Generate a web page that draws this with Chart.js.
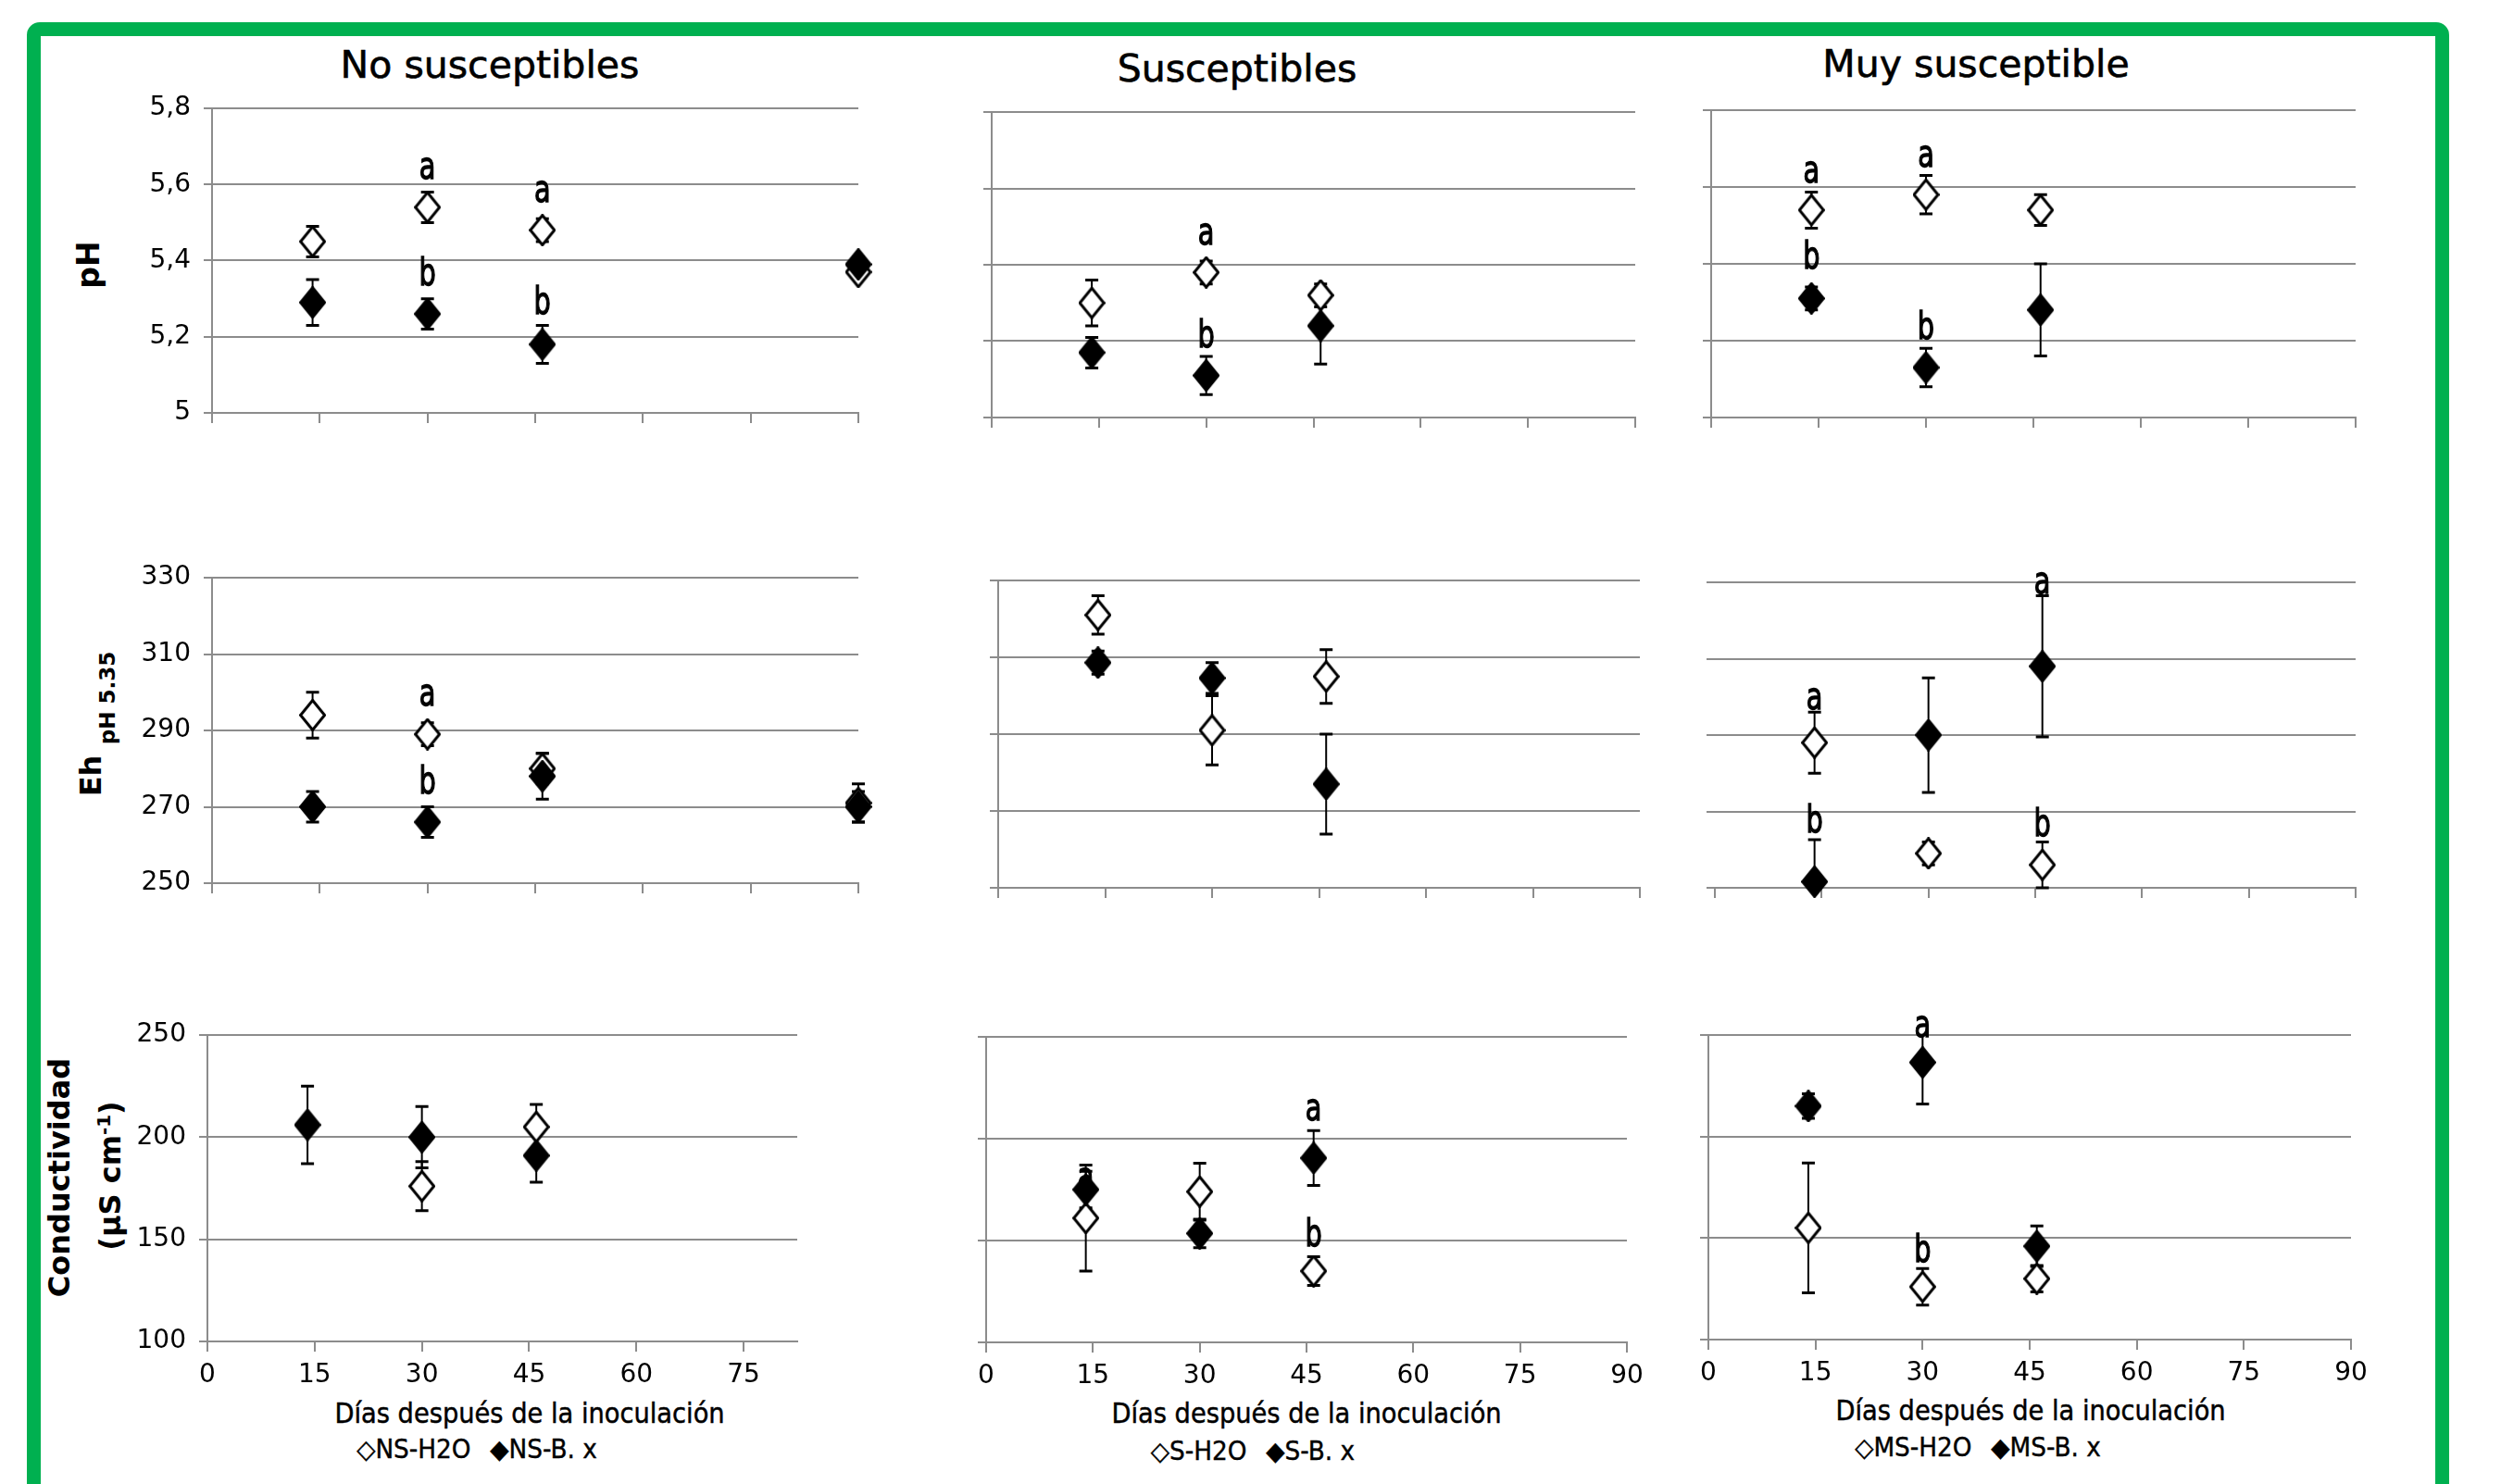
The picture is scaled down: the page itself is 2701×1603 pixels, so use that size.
<!DOCTYPE html>
<html>
<head>
<meta charset="utf-8">
<script src="https://cdn.jsdelivr.net/npm/chart.js@4.4.1/dist/chart.umd.min.js"></script>
<style>
  body { margin: 0; background: #fff; }
  #page { position: relative; width: 2701px; height: 1603px; overflow: hidden; background: #fff;
          font-family: 'DejaVu Sans', sans-serif; color: #000; }
  .frame { position: absolute; left: 29px; top: 24px; width: 2616px; height: 1700px;
           border: 15px solid #00B050; border-radius: 14px; box-sizing: border-box; }
  canvas { position: absolute; }
  .txt { position: absolute; white-space: nowrap; line-height: 1; transform: translate(-50%, -50%); }
  .rot { transform: translate(-50%, -50%) rotate(-90deg); font-weight: bold; }
  .title { font-size: 41px; -webkit-text-stroke: 0.6px #000; }
  .xt { font-size: 31px; transform: translate(-50%, -50%) scaleX(0.88); -webkit-text-stroke: 0.5px #000; }
  .lg { font-size: 28px; transform: translate(-50%, -50%) scaleX(0.94); -webkit-text-stroke: 0.4px #000; }
  .lg .gap { display: inline-block; width: 22px; }
</style>
</head>
<body>
<div id="page">
  <div class="frame"></div>

  <div class="txt title" style="left:529px;top:70px">No susceptibles</div>
  <div class="txt title" style="left:1336px;top:74px">Susceptibles</div>
  <div class="txt title" style="left:2134px;top:69px">Muy susceptible</div>

  <div class="txt rot" style="left:95px;top:286px;font-size:33px">pH</div>
  <div class="txt rot" style="left:98px;top:838px;font-size:32px">Eh</div>
  <div class="txt rot" style="left:116px;top:754px;font-size:23px">pH 5.35</div>
  <div class="txt rot" style="left:64px;top:1272px;font-size:32px">Conductividad</div>
  <div class="txt rot" style="left:119px;top:1270px;font-size:32px">(µS cm<sup style="font-size:0.62em">-1</sup>)</div>

  <div class="txt xt" style="left:572px;top:1526px">Días después de la inoculación</div>
  <div class="txt xt" style="left:1411px;top:1526px">Días después de la inoculación</div>
  <div class="txt xt" style="left:2193px;top:1523px">Días después de la inoculación</div>

  <div class="txt lg" style="left:515px;top:1566px">◇NS-H2O<span class="gap"></span>◆NS-B. x</div>
  <div class="txt lg" style="left:1353px;top:1568px">◇S-H2O<span class="gap"></span>◆S-B. x</div>
  <div class="txt lg" style="left:2136px;top:1564px">◇MS-H2O<span class="gap"></span>◆MS-B. x</div>
</div>

<script>
// sampling days
const nsDays = [14, 30, 46, 90];
const nsCondDays = [14, 30, 46];
const sDays = [14, 30, 46];
const msDays = [14, 30, 46];

// tick labels
const xTicksFull = [0, 15, 30, 45, 60, 75, 90];
const xTicksNs = [0, 15, 30, 45, 60, 75];
const phTicks = [5, 5.2, 5.4, 5.6, 5.8];
const ehTicks = [250, 270, 290, 310, 330];
const condTicks = [100, 150, 200, 250];

// No susceptibles
const nsPhH2O = [5.45, 5.54, 5.48, 5.37];
const nsPhH2OErr = [0.04, 0.04, 0.03, 0.01];
const nsPhBx = [5.29, 5.26, 5.18, 5.39];
const nsPhBxErr = [0.06, 0.04, 0.05, 0.02];
const nsEhH2O = [294, 289, 280, 271];
const nsEhH2OErr = [6, 3, 4, 5];
const nsEhBx = [270, 266, 278, 270];
const nsEhBxErr = [4, 4, 6, 4];
const nsCondH2O = [null, 176, 205];
const nsCondH2OErr = [0, 12, 11];
const nsCondBx = [206, 200, 191];
const nsCondBxErr = [19, 15, 13];

// Susceptibles
const sPhH2O = [5.30, 5.38, 5.32];
const sPhH2OErr = [0.06, 0.03, 0.03];
const sPhBx = [5.17, 5.11, 5.24];
const sPhBxErr = [0.04, 0.05, 0.10];
const sEhH2O = [321, 291, 305];
const sEhH2OErr = [5, 9, 7];
const sEhBx = [308.6, 304.6, 277];
const sEhBxErr = [3, 4, 13];
const sCondH2O = [161, 174, 135];
const sCondH2OErr = [26, 14, 7];
const sCondBx = [175, 153.5, 190.5];
const sCondBxErr = [9, 7, 13.5];

// Muy susceptible
const msPhH2O = [5.54, 5.58, 5.54];
const msPhH2OErr = [0.047, 0.05, 0.04];
const msPhBx = [5.31, 5.13, 5.28];
const msPhBxErr = [0.03, 0.05, 0.12];
const msEhH2O = [288, 259, 256];
const msEhH2OErr = [8, 3, 6];
const msEhBx = [251.6, 290, 308];
const msEhBxErr = [11, 15, 18.5];
const msCondH2O = [155, 126, 130];
const msCondH2OErr = [32, 9, 6.5];
const msCondBx = [215, 236.5, 146];
const msCondBxErr = [6, 20.5, 10];

// significance letters: [letter, day, value]
const nsPhLetters = [['a', 30, 5.64], ['a', 46, 5.58], ['b', 30, 5.36], ['b', 46, 5.285]];
const nsEhLetters = [['a', 30, 299], ['b', 30, 276]];
const sPhLetters = [['a', 30, 5.478], ['b', 30, 5.21]];
const sCondLetters = [['a', 14, 180], ['a', 46, 214], ['b', 46, 152]];
const msPhLetters = [['a', 14, 5.636], ['a', 30, 5.677], ['b', 14, 5.413], ['b', 30, 5.23]];
const msEhLetters = [['a', 46, 329.5], ['a', 14, 299.3], ['b', 14, 267], ['b', 46, 266]];
const msCondLetters = [['a', 30, 254], ['b', 30, 143]];

Chart.defaults.font.family = "'DejaVu Sans', sans-serif";
const GRID = '#8c8c8c';
const AW = 110, PT = 60, PR = 40, XH = 64;

function diamond(filled) {
  const c = document.createElement('canvas');
  c.width = 29; c.height = 35;
  const g = c.getContext('2d');
  g.beginPath();
  g.moveTo(14.5, 1.5); g.lineTo(27.5, 17.5); g.lineTo(14.5, 33.5); g.lineTo(1.5, 17.5);
  g.closePath();
  g.fillStyle = filled ? '#000' : '#fff';
  g.fill();
  g.lineWidth = 3; g.strokeStyle = '#000'; g.lineJoin = 'miter';
  g.stroke();
  return c;
}
const openDiamond = diamond(false);
const fullDiamond = diamond(true);

function pts(days, vals, errs) {
  return days.map((d, i) => ({ x: d, y: vals[i], e: errs[i] })).filter(p => p.y != null);
}

function errorPlugin(letters) {
  return {
    id: 'errorBars',
    beforeDatasetsDraw(chart) {
      const { ctx, scales: { x, y } } = chart;
      ctx.save();
      ctx.strokeStyle = '#000';
      chart.data.datasets.forEach(ds => {
        ds.data.forEach(p => {
          if (!p.e) return;
          const px = x.getPixelForValue(p.x);
          const hi = p.y + p.e, lo = p.y - p.e;
          const yHi = y.getPixelForValue(Math.min(hi, y.max));
          const yLo = y.getPixelForValue(Math.max(lo, y.min));
          ctx.lineWidth = 2;
          ctx.beginPath(); ctx.moveTo(px, yHi); ctx.lineTo(px, yLo); ctx.stroke();
          ctx.lineWidth = 3;
          ctx.beginPath();
          if (hi <= y.max) { ctx.moveTo(px - 7, yHi); ctx.lineTo(px + 7, yHi); }
          if (lo >= y.min) { ctx.moveTo(px - 7, yLo); ctx.lineTo(px + 7, yLo); }
          ctx.stroke();
        });
      });
      // letters are tall and narrow in the original
      ctx.fillStyle = '#000';
      ctx.font = "40px 'DejaVu Sans'";
      ctx.textAlign = 'center';
      ctx.textBaseline = 'middle';
      ctx.lineWidth = 1.4;
      (letters || []).forEach(([t, lx, ly]) => {
        ctx.save();
        ctx.translate(x.getPixelForValue(lx), y.getPixelForValue(ly));
        ctx.scale(0.72, 1);
        ctx.fillText(t, 0, 0);
        ctx.strokeText(t, 0, 0);
        ctx.restore();
      });
      ctx.restore();
    }
  };
}

function fmtY(v) {
  return Number.isInteger(v) ? String(v) : v.toFixed(1).replace('.', ',');
}

function panel(box, p) {
  const canvas = document.createElement('canvas');
  const w = AW + (box.r - box.l) + PR;
  const h = PT + (box.b - box.t) + XH;
  canvas.width = w; canvas.height = h;
  canvas.style.left = (box.l - AW) + 'px';
  canvas.style.top = (box.t - PT) + 'px';
  document.getElementById('page').appendChild(canvas);

  new Chart(canvas, {
    type: 'scatter',
    data: {
      datasets: [
        { label: p.bxName, data: pts(p.days, p.bx, p.bxErr), pointStyle: fullDiamond,
          pointRadius: 17, clip: false },
        { label: p.h2oName, data: pts(p.days, p.h2o, p.h2oErr), pointStyle: openDiamond,
          pointRadius: 17, clip: false }
      ]
    },
    options: {
      responsive: false,
      animation: false,
      events: [],
      layout: { padding: { top: PT, right: PR, left: 0, bottom: 0 } },
      plugins: { legend: { display: false }, tooltip: { enabled: false } },
      scales: {
        x: {
          type: 'linear', min: 0, max: p.xMax,
          afterBuildTicks: s => { s.ticks = p.xTicks.map(v => ({ value: v })); },
          afterFit: s => { s.height = XH; },
          grid: { drawOnChartArea: false, drawTicks: true, tickLength: 11, color: GRID, lineWidth: 2 },
          border: { display: true, color: GRID, width: 2 },
          ticks: { display: p.showX, color: '#000', font: { size: 28 }, padding: 9,
                   maxRotation: 0, autoSkip: false, includeBounds: false }
        },
        y: {
          type: 'linear', min: p.yTicks[0], max: p.yTicks[p.yTicks.length - 1],
          afterBuildTicks: s => { s.ticks = p.yTicks.map(v => ({ value: v })); },
          afterFit: s => { s.width = AW; },
          grid: { color: GRID, lineWidth: 2, drawTicks: true, tickLength: 9 },
          border: { display: p.yBorder !== false, color: GRID, width: 2 },
          ticks: { display: p.showY, color: '#000', font: { size: 28 }, padding: 14, callback: fmtY }
        }
      }
    },
    plugins: [errorPlugin(p.letters)]
  });
}

// No susceptibles
panel({ l: 229, r: 927, t: 117, b: 446 }, {
  days: nsDays, h2o: nsPhH2O, h2oErr: nsPhH2OErr, bx: nsPhBx, bxErr: nsPhBxErr,
  h2oName: 'NS-H2O', bxName: 'NS-B. x', letters: nsPhLetters,
  yTicks: phTicks, xTicks: xTicksFull, xMax: 90, showX: false, showY: true });
panel({ l: 229, r: 927, t: 624, b: 954 }, {
  days: nsDays, h2o: nsEhH2O, h2oErr: nsEhH2OErr, bx: nsEhBx, bxErr: nsEhBxErr,
  h2oName: 'NS-H2O', bxName: 'NS-B. x', letters: nsEhLetters,
  yTicks: ehTicks, xTicks: xTicksFull, xMax: 90, showX: false, showY: true });
panel({ l: 224, r: 861, t: 1118, b: 1449 }, {
  days: nsCondDays, h2o: nsCondH2O, h2oErr: nsCondH2OErr, bx: nsCondBx, bxErr: nsCondBxErr,
  h2oName: 'NS-H2O', bxName: 'NS-B. x', letters: [],
  yTicks: condTicks, xTicks: xTicksNs, xMax: 82.5, showX: true, showY: true });

// Susceptibles
panel({ l: 1071, r: 1766, t: 121, b: 451 }, {
  days: sDays, h2o: sPhH2O, h2oErr: sPhH2OErr, bx: sPhBx, bxErr: sPhBxErr,
  h2oName: 'S-H2O', bxName: 'S-B. x', letters: sPhLetters,
  yTicks: phTicks, xTicks: xTicksFull, xMax: 90, showX: false, showY: false });
panel({ l: 1078, r: 1771, t: 627, b: 959 }, {
  days: sDays, h2o: sEhH2O, h2oErr: sEhH2OErr, bx: sEhBx, bxErr: sEhBxErr,
  h2oName: 'S-H2O', bxName: 'S-B. x', letters: [],
  yTicks: ehTicks, xTicks: xTicksFull, xMax: 90, showX: false, showY: false });
panel({ l: 1065, r: 1757, t: 1120, b: 1450 }, {
  days: sDays, h2o: sCondH2O, h2oErr: sCondH2OErr, bx: sCondBx, bxErr: sCondBxErr,
  h2oName: 'S-H2O', bxName: 'S-B. x', letters: sCondLetters,
  yTicks: condTicks, xTicks: xTicksFull, xMax: 90, showX: true, showY: false });

// Muy susceptible
panel({ l: 1848, r: 2544, t: 119, b: 451 }, {
  days: msDays, h2o: msPhH2O, h2oErr: msPhH2OErr, bx: msPhBx, bxErr: msPhBxErr,
  h2oName: 'MS-H2O', bxName: 'MS-B. x', letters: msPhLetters,
  yTicks: phTicks, xTicks: xTicksFull, xMax: 90, showX: false, showY: false });
panel({ l: 1852, r: 2544, t: 629, b: 959 }, {
  days: msDays, h2o: msEhH2O, h2oErr: msEhH2OErr, bx: msEhBx, bxErr: msEhBxErr,
  h2oName: 'MS-H2O', bxName: 'MS-B. x', letters: msEhLetters,
  yTicks: ehTicks, xTicks: xTicksFull, xMax: 90, showX: false, showY: false, yBorder: false });
panel({ l: 1845, r: 2539, t: 1118, b: 1447 }, {
  days: msDays, h2o: msCondH2O, h2oErr: msCondH2OErr, bx: msCondBx, bxErr: msCondBxErr,
  h2oName: 'MS-H2O', bxName: 'MS-B. x', letters: msCondLetters,
  yTicks: condTicks, xTicks: xTicksFull, xMax: 90, showX: true, showY: false });
</script>
</body>
</html>
